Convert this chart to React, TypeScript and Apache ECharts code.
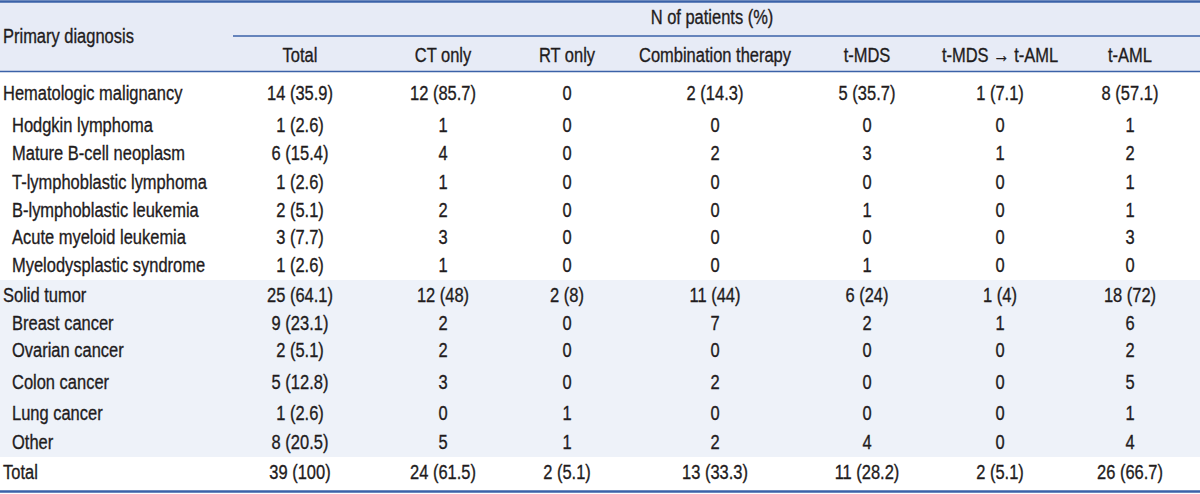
import React, { useEffect, useRef } from "react";
import * as echarts from "echarts";

const columnHeaders = ["Total", "CT only", "RT only", "Combination therapy", "t-MDS", "t-MDS \u2192 t-AML", "t-AML"];
const groupHeader = "N of patients (%)";
const stubHeader = "Primary diagnosis";

const rowLabels = [
  "Hematologic malignancy",
  "Hodgkin lymphoma",
  "Mature B-cell neoplasm",
  "T-lymphoblastic lymphoma",
  "B-lymphoblastic leukemia",
  "Acute myeloid leukemia",
  "Myelodysplastic syndrome",
  "Solid tumor",
  "Breast cancer",
  "Ovarian cancer",
  "Colon cancer",
  "Lung cancer",
  "Other",
  "Total",
];
const rowIndented = [false, true, true, true, true, true, true, false, true, true, true, true, true, false];

const totalCol = ["14 (35.9)", "1 (2.6)", "6 (15.4)", "1 (2.6)", "2 (5.1)", "3 (7.7)", "1 (2.6)", "25 (64.1)", "9 (23.1)", "2 (5.1)", "5 (12.8)", "1 (2.6)", "8 (20.5)", "39 (100)"];
const ctOnly = ["12 (85.7)", "1", "4", "1", "2", "3", "1", "12 (48)", "2", "2", "3", "0", "5", "24 (61.5)"];
const rtOnly = ["0", "0", "0", "0", "0", "0", "0", "2 (8)", "0", "0", "0", "1", "1", "2 (5.1)"];
const combination = ["2 (14.3)", "0", "2", "0", "0", "0", "0", "11 (44)", "7", "0", "2", "0", "2", "13 (33.3)"];
const tMDS = ["5 (35.7)", "0", "3", "0", "1", "0", "1", "6 (24)", "2", "0", "0", "0", "4", "11 (28.2)"];
const tMDStoAML = ["1 (7.1)", "0", "1", "0", "0", "0", "0", "1 (4)", "1", "0", "0", "0", "0", "2 (5.1)"];
const tAML = ["8 (57.1)", "1", "2", "1", "1", "3", "0", "18 (72)", "6", "2", "5", "1", "4", "26 (66.7)"];

const columns = [totalCol, ctOnly, rtOnly, combination, tMDS, tMDStoAML, tAML];

// layout
const W = 1200;
const H = 494;
const colX = [300, 443, 567, 715, 867, 1000, 1130];
const rowY = [93, 125, 153, 182, 210, 237, 265, 295, 323, 350, 382, 413, 442, 472];
const FONT = "21px 'Liberation Sans', Arial, sans-serif";
const SCALE_X = 0.785;
const TEXT = "#1f1c1d";
const LINE = "#3b62a8";
const HEADER_BG = "#e7ebf6";
const BAND_BG = "#eef2f9";

function txt(text: string, x: number, y: number, align: string) {
  return {
    type: "text",
    silent: true,
    x,
    y,
    scaleX: SCALE_X,
    style: {
      text,
      x: 0,
      y: 0,
      font: FONT,
      fill: TEXT,
      stroke: TEXT,
      lineWidth: 0.35,
      textAlign: align,
      textVerticalAlign: "middle",
      align,
      verticalAlign: "middle",
    },
  };
}

function hline(x1: number, x2: number, y: number, w: number) {
  return {
    type: "line",
    silent: true,
    shape: { x1, y1: y, x2, y2: y },
    style: { stroke: LINE, lineWidth: w },
  };
}

export default function App() {
  const ref = useRef<HTMLDivElement>(null);
  useEffect(() => {
    document.body.style.margin = "0";
    if (!ref.current) return;
    const chart = echarts.init(ref.current, null, { renderer: "svg" });
    const elements: any[] = [];
    elements.push({ type: "rect", silent: true, shape: { x: 0, y: 0, width: W, height: H }, style: { fill: "#ffffff" } });
    elements.push({ type: "rect", silent: true, shape: { x: 0, y: 1, width: W, height: 70 }, style: { fill: HEADER_BG } });
    elements.push({ type: "rect", silent: true, shape: { x: 0, y: 280, width: W, height: 177 }, style: { fill: BAND_BG } });
    elements.push(hline(0, W, 1.5, 2.5));
    elements.push(hline(233, W, 36, 1.5));
    elements.push(hline(0, W, 71.5, 1.5));
    elements.push(hline(0, W, 491.5, 2.5));

    elements.push(txt(stubHeader, 3, 36, "left"));
    elements.push(txt(groupHeader, 712, 17, "center"));
    columnHeaders.forEach((h, i) => elements.push(txt(h, colX[i], 55, "center")));

    rowLabels.forEach((label, r) => {
      elements.push(txt(label, rowIndented[r] ? 12 : 3, rowY[r], "left"));
      columns.forEach((col, c) => {
        elements.push(txt(col[r], colX[c], rowY[r], "center"));
      });
    });

    chart.setOption({
      animation: false,
      backgroundColor: "#ffffff",
      graphic: { elements },
    });
    return () => chart.dispose();
  }, []);
  return <div ref={ref} style={{ position: "absolute", left: 0, top: 0, width: W, height: H }} />;
}
